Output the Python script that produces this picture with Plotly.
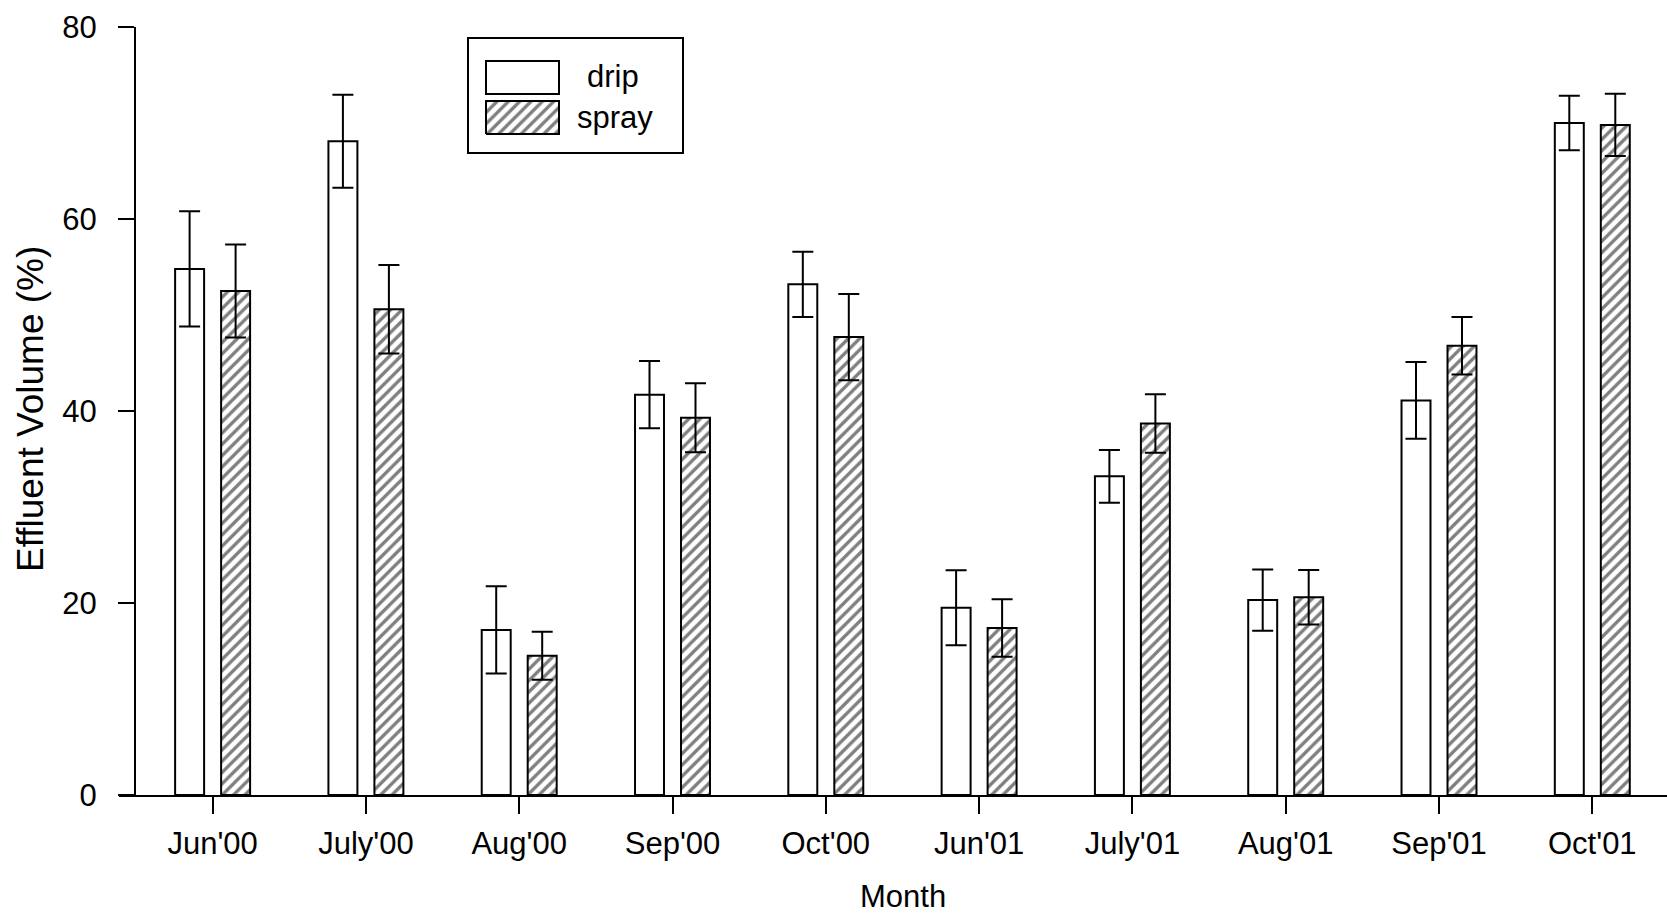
import plotly.graph_objects as go

# Monthly effluent volume (%) for two irrigation methods
months = ["Jun'00", "July'00", "Aug'00", "Sep'00", "Oct'00",
          "Jun'01", "July'01", "Aug'01", "Sep'01", "Oct'01"]
drip = [54.8, 68.1, 17.2, 41.7, 53.2, 19.5, 33.2, 20.3, 41.1, 70.0]
drip_err = [6.0, 4.85, 4.55, 3.5, 3.4, 3.9, 2.75, 3.2, 4.0, 2.85]
spray = [52.5, 50.6, 14.5, 39.3, 47.7, 17.4, 38.7, 20.6, 46.8, 69.8]
spray_err = [4.85, 4.6, 2.5, 3.6, 4.5, 3.0, 3.05, 2.85, 3.0, 3.25]
y_ticks = [0, 20, 40, 60, 80]

FONT = "Liberation Sans, Arial, sans-serif"
FS = 31
W, H = 1667, 913
ML, MR, MT, MB = 119, 0, 27, 118
PW, PH = W - ML - MR, H - MT - MB


def px(x):
    return (x - ML) / PW


def py(y):
    return (H - MB - y) / PH


err_style = dict(type="data", color="black", thickness=2, width=10.5)
hatch = dict(shape="/", fgcolor="black", bgcolor="white", size=8, solidity=0.42)

fig = go.Figure()
fig.add_trace(go.Bar(
    x=months, y=drip, name="drip",
    marker=dict(color="white", line=dict(color="black", width=2)),
    error_y=dict(array=drip_err, **err_style),
))
fig.add_trace(go.Bar(
    x=months, y=spray, name="spray",
    marker=dict(color="white", line=dict(color="black", width=2), pattern=hatch),
    error_y=dict(array=spray_err, **err_style),
))

# legend swatch with the hatch fill, drawn on a paper-scaled overlay axis
sx0, sx1 = px(486), px(559)
sy0, sy1 = py(134), py(101)
fig.add_trace(go.Scatter(
    x=[sx0, sx1, sx1, sx0, sx0], y=[sy0, sy0, sy1, sy1, sy0],
    xaxis="x2", yaxis="y3", mode="lines", fill="toself",
    fillcolor="white", fillpattern=hatch,
    line=dict(color="black", width=2), hoverinfo="skip", showlegend=False,
))

xpos = px(135)
fig.update_layout(
    width=W, height=H,
    margin=dict(l=ML, r=MR, t=MT, b=MB),
    plot_bgcolor="white", paper_bgcolor="white",
    showlegend=False,
    barmode="group", bargap=0.4, bargroupgap=0.37,
    font=dict(family=FONT, size=FS, color="black"),
    xaxis=dict(
        domain=[0, 1],
        range=[-0.6106, 9.4873],
        showline=True, linecolor="black", linewidth=2,
        ticks="outside", ticklen=17, tickwidth=2, tickcolor="black",
        showgrid=False, zeroline=False,
        tickfont=dict(family=FONT, size=FS),
        ticklabelstandoff=3,
    ),
    yaxis=dict(
        range=[0, 80], anchor="free", position=xpos,
        tickvals=y_ticks, ticks="outside", ticklen=16, tickwidth=2,
        tickcolor="black",
        showline=True, linecolor="black", linewidth=2,
        showgrid=False, zeroline=False,
        tickfont=dict(family=FONT, size=FS),
        ticklabelstandoff=15,
    ),
    yaxis2=dict(
        range=[0, 80], anchor="free", position=xpos, overlaying="y",
        tickvals=y_ticks, ticks="inside", ticklen=17, tickwidth=2,
        tickcolor="black", showticklabels=False, showline=False,
        showgrid=False, zeroline=False,
    ),
    xaxis2=dict(domain=[0, 1], range=[0, 1], visible=False, anchor="y3",
                overlaying="x"),
    yaxis3=dict(domain=[0, 1], range=[0, 1], visible=False, anchor="x2",
                overlaying="y"),
    shapes=[
        # legend frame
        dict(type="rect", xref="paper", yref="paper",
             x0=px(468), x1=px(683), y0=py(153), y1=py(38),
             line=dict(color="black", width=2), fillcolor="rgba(0,0,0,0)"),
        # open swatch
        dict(type="rect", xref="paper", yref="paper",
             x0=px(486), x1=px(559), y0=py(94), y1=py(61),
             line=dict(color="black", width=2), fillcolor="white"),
    ],
    annotations=[
        dict(text="drip", xref="paper", yref="paper", x=px(613), y=py(77),
             showarrow=False, xanchor="center", yanchor="middle",
             font=dict(family=FONT, size=FS)),
        dict(text="spray", xref="paper", yref="paper", x=px(615), y=py(117),
             showarrow=False, xanchor="center", yanchor="middle",
             font=dict(family=FONT, size=FS)),
        dict(text="Month", xref="paper", yref="paper", x=px(903), y=py(896),
             showarrow=False, xanchor="center", yanchor="middle",
             font=dict(family=FONT, size=FS)),
        dict(text="Effluent Volume (%)", xref="paper", yref="paper",
             x=px(30), y=py(409), textangle=-90,
             showarrow=False, xanchor="center", yanchor="middle",
             font=dict(family=FONT, size=37)),
    ],
)

fig.write_html("out.html")
